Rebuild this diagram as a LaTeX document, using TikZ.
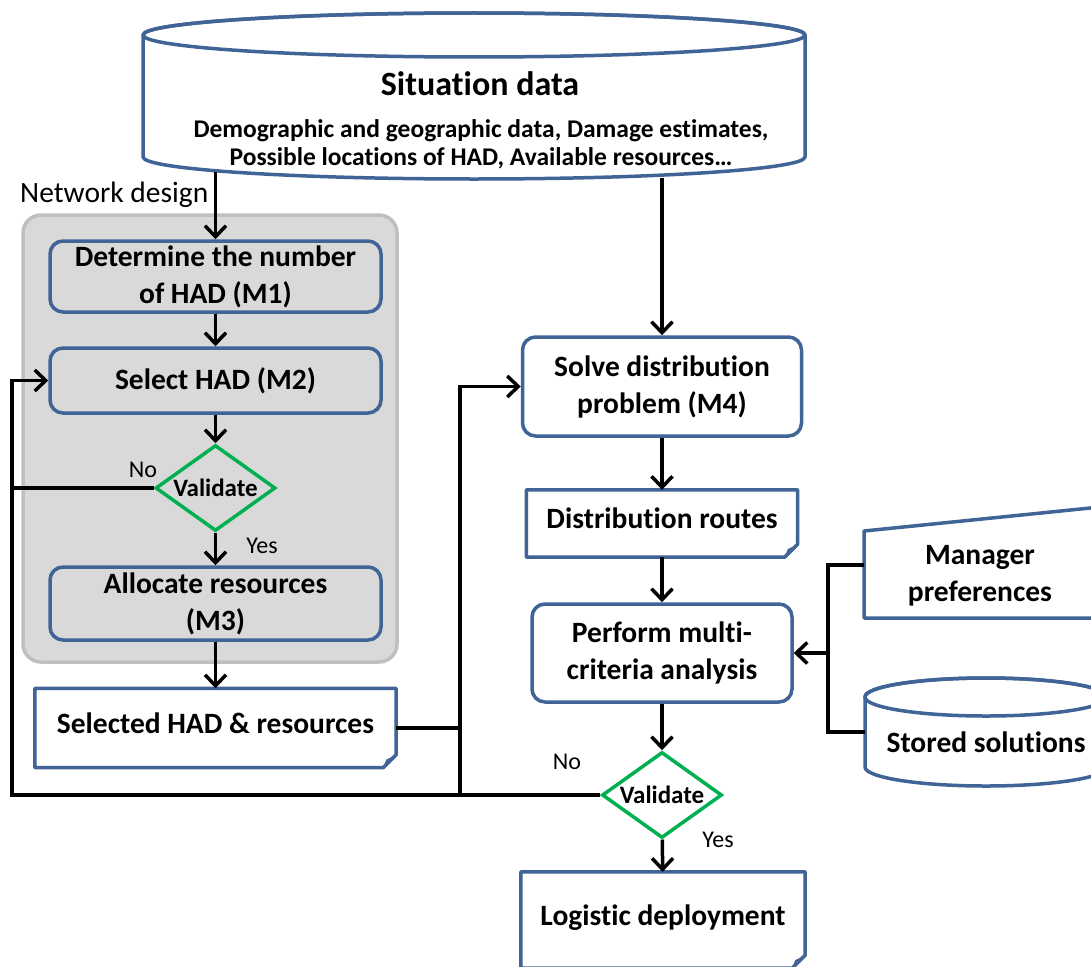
\documentclass[tikz,border=0pt]{standalone}
\usepackage{fontspec}
\setmainfont[Ligatures=NoCommon]{Carlito}
\usepackage{tikz}
\usetikzlibrary{shapes.geometric, arrows.meta}
\definecolor{boxblue}{RGB}{64,100,150}
\definecolor{okgreen}{RGB}{0,176,80}
\definecolor{panel}{RGB}{217,217,217}
\definecolor{panelline}{RGB}{191,191,191}
\tikzstyle{block} = [rectangle, draw=boxblue, line width=3.5pt, rounded corners=13pt,
                 align=center, inner sep=0pt, font=\fontsize{29.5}{37}\selectfont\bfseries]
\tikzstyle{docu} = [rectangle, fill=white, inner sep=0pt,
                 text height=21pt, text depth=11pt, font=\fontsize{29.5}{37}\selectfont\bfseries]
\tikzstyle{decision} = [diamond, draw=okgreen, line width=3.5pt, inner sep=0pt, aspect=1.4,
                 minimum width=120pt, minimum height=86pt, font=\fontsize{25}{30}\selectfont\bfseries]
\tikzstyle{store} = [draw=boxblue, line width=3.5pt, line join=round]
\tikzstyle{panelbox} = [draw=panelline, fill=panel, line width=3.5pt, rounded corners=18pt]
\tikzstyle{note} = [inner sep=0pt, font=\fontsize{24}{29}\selectfont]
\tikzstyle{branch} = [line width=3.5pt]
\tikzstyle{flow} = [line width=3.5pt, -{Straight Barb[length=11pt, width=21pt]}]
\newcommand{\docshape}[1]{%
  \coordinate (#1-c) at (#1.south -| #1.east);
  \draw[store] (#1.north west) -- (#1.north east) -- ([yshift=13pt]#1-c) -- ([xshift=-13pt]#1-c)
      -- (#1.south west) -- cycle;
  \fill[boxblue] ([xshift=-13pt]#1-c) -- ([yshift=13pt]#1-c) -- ([xshift=-10pt, yshift=8pt]#1-c) -- cycle;}

\begin{document}
\begin{tikzpicture}[x=1pt, y=-1pt]
\useasboundingbox (0,0) rectangle (1091,966);
\clip (0,0) rectangle (1091,966);

% situation data
\draw [store, fill=white] (143,35) -- (143,157) arc[start angle=180, end angle=360, x radius=331pt, y radius=22pt]
    -- (805,35) arc[start angle=0, end angle=180, x radius=331pt, y radius=22pt] -- cycle;
\draw [store] (474,35) ellipse [x radius=331pt, y radius=22pt];
\node [font=\fontsize{34}{40}\selectfont\bfseries] at (480,84) (sittitle) {Situation data};
\node [font=\fontsize{25.5}{28}\selectfont\bfseries, align=center] at (481,144) (sitinfo)
    {Demographic and geographic data, Damage estimates,\\Possible locations of HAD, Available resources…};
\coordinate (sitL) at (215.5,172);
\coordinate (sitR) at (662,178);

% network design
\node [anchor=west, inner sep=0pt, font=\fontsize{29.5}{36}\selectfont] at (20,195) (netlabel) {Network design};
\draw [panelbox] (23,215) rectangle (397,662);

\node [block, fill=panel, minimum width=331pt, minimum height=71pt] at (215.5,276.5) (m1) {Determine the number\\of HAD (M1)};
\node [block, fill=panel, minimum width=331pt, minimum height=65pt] at (215.5,380.5) (m2) {Select HAD (M2)};
\node [decision, fill=panel] at (215.5,488) (val1) {Validate};
\node [block, fill=panel, minimum width=331pt, minimum height=73pt] at (215.5,603.5) (m3) {Allocate resources\\(M3)};
\node [docu, minimum width=361pt, minimum height=79pt] at (215.5,728) (sel) {Selected HAD \& resources};
\docshape{sel}

% distribution
\node [block, fill=white, minimum width=279pt, minimum height=99pt] at (662,386.5) (solve) {Solve distribution\\problem (M4)};
\node [docu, minimum width=271pt, minimum height=67pt] at (662,523.5) (routes) {Distribution routes};
\docshape{routes}
\node [block, fill=white, minimum width=260pt, minimum height=98pt] at (662,653) (perform) {Perform multi-\\criteria analysis};
\node [decision, fill=white] at (662,795) (val2) {Validate};
\node [docu, minimum width=284pt, minimum height=96pt] at (663,920) (deploy) {Logistic deployment};
\docshape{deploy}

% inputs of the analysis
\draw [store, fill=white] (864,531) -- (1110,506) -- (1110,618) -- (864,618) -- cycle;
\node [block, draw=none, rounded corners=0pt] at (980,576) (mgr) {Manager\\preferences};
\draw [store, fill=white] (865,697) -- (865,767) arc[start angle=180, end angle=360, x radius=121pt, y radius=19pt]
    -- (1107,697) arc[start angle=0, end angle=180, x radius=121pt, y radius=19pt] -- cycle;
\draw [store] (986,697) ellipse [x radius=121pt, y radius=19pt];
\node [block, draw=none, rounded corners=0pt] at (986,742) (stored) {Stored solutions};
\coordinate (mgrin) at (864,565);
\coordinate (stoin) at (865,732);

\node [note] at (143,470) (no1) {No};
\node [note] at (262,546) (yes1) {Yes};
\node [note] at (567,762) (no2) {No};
\node [note] at (718,840) (yes2) {Yes};

\coordinate (loopx) at (12,795);
\coordinate (joinx) at (460,795);
\coordinate (inx) at (828,653);

\draw [flow] (sitL) -- (m1);
\draw [flow] (m1) -- (m2);
\draw [flow] (m2) -- (val1);
\draw [flow] (val1) -- (m3);
\draw [flow] (m3) -- (sel);
\draw [branch] (val1.west) -- (val1.west -| loopx);
\draw [flow] (val2.west) -- (loopx) |- (m2.west);
\draw [branch] (sel.east) -- (sel.east -| joinx);
\draw [flow] (joinx) |- (solve.west);
\draw [flow] (sitR) -- (solve);
\draw [flow] (solve) -- (routes);
\draw [flow] (routes) -- (perform);
\draw [flow] (perform) -- (val2);
\draw [flow] (val2) -- (deploy);
\draw [branch] (mgrin) -| (inx) |- (stoin);
\draw [flow] (inx) -- (perform.east);

\end{tikzpicture}
\end{document}
